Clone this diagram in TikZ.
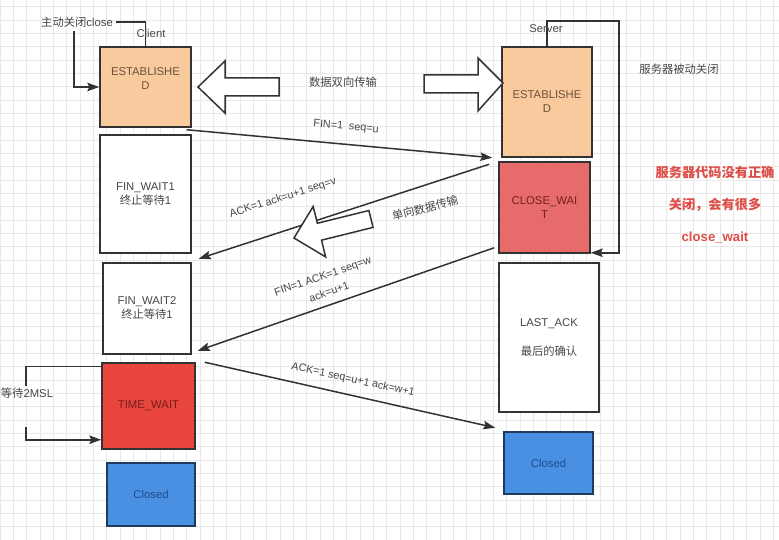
\documentclass[tikz,border=0pt]{standalone}
\usepackage{fontspec}
\setmainfont{Liberation Sans}
\newfontfamily\cjk{Noto Sans CJK SC}
\usepackage{tikz}
\usetikzlibrary{arrows.meta,calc}
\definecolor{lineGray}{RGB}{51,51,51}
\definecolor{txtGray}{RGB}{70,70,70}
\definecolor{gridGray}{RGB}{232,232,232}
\definecolor{peach}{RGB}{248,202,158}
\definecolor{estText}{RGB}{110,80,55}
\definecolor{waitRed}{RGB}{232,107,107}
\definecolor{timeRed}{RGB}{232,69,60}
\definecolor{darkRed}{RGB}{120,30,30}
\definecolor{closedBlue}{RGB}{74,144,226}
\definecolor{navy}{RGB}{30,58,95}
\definecolor{closedText}{RGB}{30,75,140}
\definecolor{warnRed}{RGB}{222,78,72}

\begin{document}
\begin{tikzpicture}[x=1pt,y=-1pt,
  box/.style={draw=lineGray,line width=1.5pt,inner sep=0pt,align=center,text=txtGray,font=\fontsize{11.3}{14}\selectfont},
  flow/.style={draw=lineGray,line width=1.5pt,-{Stealth[length=12pt,width=8.5pt,inset=2pt]}},
  plain/.style={draw=lineGray,line width=1.5pt},
  msg/.style={text=txtGray,align=center,inner sep=1pt,font=\fontsize{10.8}{13}\selectfont},
  note/.style={text=txtGray,font=\fontsize{11.3}{14}\selectfont},
  warn/.style={text=warnRed,font=\fontsize{13.2}{16}\selectfont\bfseries},
  hollow/.style={draw=lineGray,line width=1.5pt,fill=white,line join=miter}]
\useasboundingbox (0,0) rectangle (779,540);
\fill[white] (0,0) rectangle (779,540);
% grid paper
\foreach \gx in {0,13.333,...,779} \draw[gridGray,line width=0.5pt] (\gx,0) -- (\gx,540);
\foreach \gy in {6.667,20,...,540} \draw[gridGray,line width=0.5pt] (0,\gy) -- (779,\gy);

% client side
\node[box,fill=peach,text=estText,minimum width=91pt,minimum height=80pt] (cEst) at (145.5,87) {ESTABLISHE\\D\\[3pt]};
\node[box,fill=white,minimum width=91pt,minimum height=118pt] (cFw1) at (145.5,194) {FIN\_WAIT1\\{\cjk 终止等待}1};
\node[box,fill=white,minimum width=88pt,minimum height=91pt] (cFw2) at (147,308.5) {FIN\_WAIT2\\{\cjk 终止等待}1};
\node[box,fill=timeRed,text=darkRed,minimum width=93pt,minimum height=86pt] (cTw) at (148.5,406) {TIME\_WAIT};
\node[box,fill=closedBlue,draw=navy,text=closedText,minimum width=88pt,minimum height=63pt] (cCl) at (151,494.5) {Closed};

% server side
\node[box,fill=peach,text=estText,minimum width=90pt,minimum height=110pt] (sEst) at (547,102) {ESTABLISHE\\D};
\node[box,fill=waitRed,text=darkRed,minimum width=91pt,minimum height=91pt] (sCw) at (544.5,207.5) {CLOSE\_WAI\\T};
\node[box,fill=white,minimum width=100pt,minimum height=149pt] (sLa) at (549,337.5) {LAST\_ACK\\[15pt]{\cjk 最后的确认}};
\node[box,fill=closedBlue,draw=navy,text=closedText,minimum width=89pt,minimum height=62pt] (sCl) at (548.5,463) {Closed};

% client closes first
\node[note] (actClose) at (77,22) {{\cjk 主动关闭}close};
\draw[plain] (actClose.east) -| (cEst.north);
\draw[flow] ($(actClose.south)+(-3,0)$) |- (cEst.west);
\node[note] (cliLbl) at (151,33) {Client};

% server passive close
\coordinate (srvTop) at (619,21);
\draw[flow] (sEst.north) |- (srvTop) |- ($(sCw.south east)+(0,-1)$);
\node[note] (srvLbl) at (546,29) {Server};
\node[note] (passive) at (679,69) {\cjk 服务器被动关闭};

% time wait loop
\node[note] (msl) at (27,393) {{\cjk 等待}2MSL};
\draw[plain] ($(cTw.north west)+(0,4)$) -| ($(msl.north)+(-1,2)$);
\draw[flow] ($(msl.south)+(-1,25)$) |- ($(cTw.south west)+(0,-10)$);

% two-way data
\draw[hollow] (198,87) -- (225,61) -- (225,78) -- (279,78) -- (279,96) -- (225,96) -- (225,113) -- cycle;
\draw[hollow] (503,83) -- (478,58) -- (478,75) -- (424,75) -- (424,93) -- (478,93) -- (478,111) -- cycle;
\node[note] (bothWay) at (343,82) {\cjk 数据双向传输};

% four waves
\draw[flow] ($(cEst.south east)+(-5,2)$) -- ($(sEst.south west)+(-9,0)$);
\node[msg,rotate=-5.2] (finU) at (346,127) {FIN=1\ \ seq=u};
\draw[flow] ($(sCw.north west)+(-9,3)$) -- ($(cFw1.south east)+(7,5)$);
\node[msg,rotate=17.7] (ackV) at (283,198) {ACK=1 ack=u+1 seq=v};
\draw[flow] ($(sCw.south west)+(-4,-6)$) -- ($(cFw2.south east)+(6,-4)$);
\node[msg,rotate=19] (finW) at (323,277) {FIN=1 ACK=1 seq=w};
\node[msg,rotate=19] (ackU) at (329,292) {ack=u+1};
\draw[flow] ($(cTw.north east)+(9,0)$) -- ($(sLa.south west)+(-3,15)$);
\node[msg,rotate=-12.4] (ackW) at (353,380) {ACK=1 seq=u+1 ack=w+1};

% one-way data
\begin{scope}[shift={(294,238)},rotate=13.9]
\draw[hollow] (0,0) -- (26.2,-26) -- (26.2,-8.7) -- (79.3,-8.7) -- (79.3,8.7) -- (26.2,8.7) -- (26.2,26) -- cycle;
\end{scope}
\node[note,rotate=15] (oneWay) at (425,208) {\cjk 单向数据传输};

% remark
\node[warn] (warn1) at (715,172) {\cjk 服务器代码没有正确};
\node[warn] (warn2) at (715,205) {\cjk 关闭，会有很多};
\node[warn] (warn3) at (715,238) {close\_wait};
\end{tikzpicture}
\end{document}
